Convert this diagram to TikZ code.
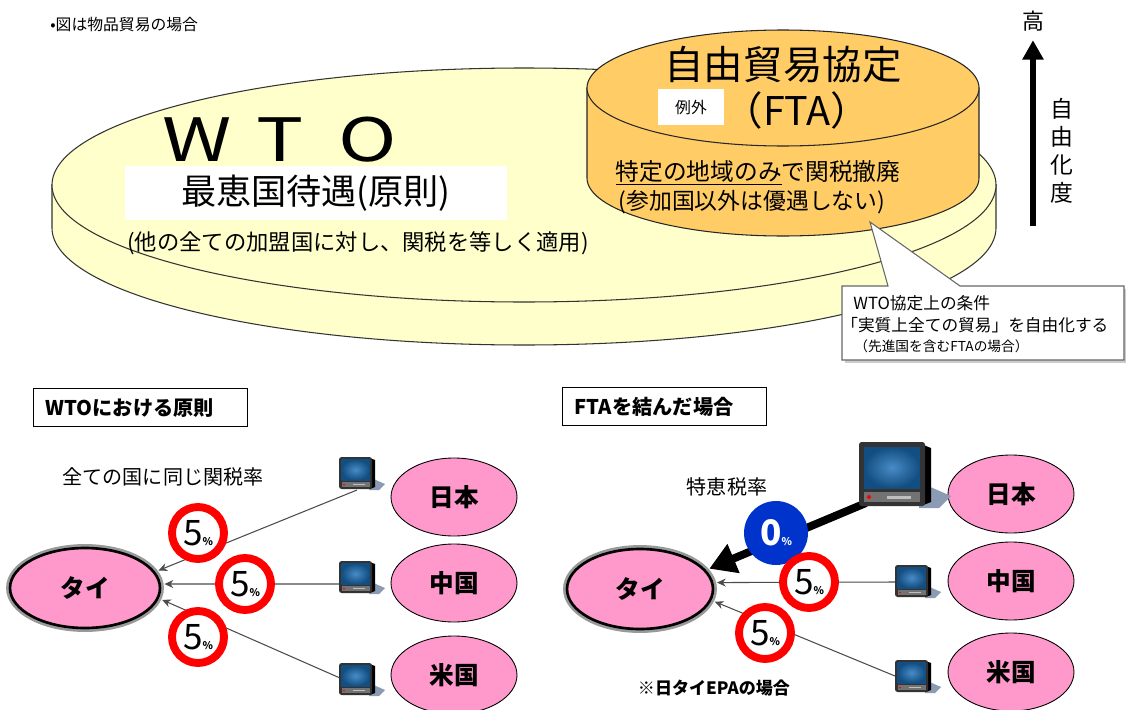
\documentclass[tikz,border=0pt]{standalone}
\usepackage{fontspec}
\setmainfont{Noto Sans CJK JP}
\newfontfamily\widefont[FakeStretch=1.32]{Noto Sans CJK JP}
\usetikzlibrary{shapes.geometric, arrows.meta}

\definecolor{wtoyellow}{HTML}{FFFFCC}
\definecolor{ftaorange}{HTML}{FFCC66}
\definecolor{cpink}{HTML}{FF99CC}
\definecolor{zeroblue}{HTML}{0033CC}
\definecolor{tvblue}{HTML}{1A6FB8}
\definecolor{tvshadow}{HTML}{8A9BB3}

% tariff figure with a small percent sign
\newcommand\tariff[1]{{\fontsize{20}{20}\selectfont #1}{\fontsize{6}{6}\selectfont\bfseries\%}}

\tikzset{%
    tv/.pic={
        \fill[tvshadow] (30,-20) -- (46,-27) -- (40,-33) -- (30,-33) -- cycle;
        \fill[black] (31,-1) -- (36,-3) -- (36,-30) -- (31,-32) -- cycle;
        \fill[black!80, rounded corners=1.5pt] (0,0) rectangle (33,-32);
        \shade[inner color=tvblue!80!white, outer color=tvblue!70!black] (2.5,-2.5) rectangle (30.5,-23);
        \fill[black!55] (2.5,-25) rectangle (30.5,-30);
        \fill[red] (5,-27.5) circle (1);
        \fill[black!25] (14,-27.2) rectangle (26,-28.4);
    }
}

\begin{document}
\begin{tikzpicture}[
        x=0.02cm, y=0.02cm,
        disk/.style={fill=wtoyellow, draw=black!80, line width=0.6pt},
        drum/.style={fill=ftaorange, draw=black!85, line width=0.6pt},
        country/.style={ellipse, draw=black, line width=0.5pt, fill=cpink, inner sep=0pt,
            minimum width=2.52cm, minimum height=1.56cm, font=\fontsize{14}{14}\selectfont\bfseries},
        thai/.style={country, minimum width=3cm, minimum height=1.6cm, line width=1.5pt,
            preaction={draw=black!40, line width=4.5pt}},
        ring/.style={circle, draw=red, line width=4.5pt, fill=white, minimum size=1.04cm, inner sep=0pt},
        zero/.style={circle, fill=zeroblue, minimum size=1.28cm, inner sep=0pt, text=white, font=\bfseries},
        flow/.style={draw=black!70, line width=0.6pt, -{Stealth[length=5pt,width=4.5pt]}, shorten >=2pt},
        heading/.style={draw=black, line width=0.8pt, anchor=north west, align=left, inner xsep=0.24cm,
            minimum height=0.76cm, font=\fontsize{11.5}{11.5}\selectfont\bfseries}
        ]
        \useasboundingbox (0,0) rectangle (1126,-710);
        \fill[white] (0,0) rectangle (1126,-710);

        \node[anchor=west, inner sep=0pt, font=\fontsize{9}{9}\selectfont] (note) at (50,-25) {•図は物品貿易の場合};

        % WTO disk
        \filldraw[disk] (52,-185) -- (52,-228) arc[start angle=180, end angle=360, x radius=472, y radius=117] -- (996,-185) -- cycle;
        \filldraw[disk] (524,-185) ellipse [x radius=472, y radius=117];

        \node (wto) at (280,-140) {\widefont\fontsize{34}{34}\selectfont W\hspace{14pt}T\hspace{20pt}O};
        \node[fill=white, minimum width=7.64cm, minimum height=1.1cm] (mfn) at (316,-193) {\fontsize{20}{20}\selectfont 最恵国待遇(原則)};
        \node (mfnnote) at (358,-243) {\fontsize{12.7}{12.7}\selectfont (他の全ての加盟国に対し、関税を等しく適用)};

        % FTA drum on top
        \filldraw[drum] (587,-88) -- (587,-178) arc[start angle=180, end angle=360, x radius=196, y radius=58] -- (979,-88) -- cycle;
        \filldraw[drum] (783,-88) ellipse [x radius=196, y radius=58];

        \node (fta) at (783,-65) {\fontsize{22.5}{22.5}\selectfont 自由貿易協定};
        \node (ftaabbr) at (797,-110) {\fontsize{22.5}{22.5}\selectfont （FTA）};
        \node[fill=white, minimum width=1.32cm, minimum height=0.74cm, inner sep=0pt] (exc) at (691,-107) {\fontsize{9}{9}\selectfont 例外};
        \node (abolish) at (758,-173) {\fontsize{13.5}{13.5}\selectfont \underline{特定の地域のみ}で関税撤廃};
        \node (members) at (752,-202) {\fontsize{13}{13}\selectfont (参加国以外は優遇しない)};

        % condition callout
        \fill[black!20] (845,-289) rectangle (1127,-363);
        \filldraw[fill=white, draw=black!60, line width=0.6pt] (842,-286) -- (888,-286) -- (870,-222) -- (960,-286)
            -- (1124,-286) -- (1124,-360) -- (842,-360) -- cycle;
        \node[anchor=west, inner sep=0pt, font=\fontsize{9.5}{9.5}\selectfont] (cond1) at (853,-303) {WTO協定上の条件};
        \node[anchor=west, inner sep=0pt, font=\fontsize{9.5}{9.5}\selectfont] (cond2) at (841,-325) {「実質上全ての貿易」を自由化する};
        \node[anchor=west, inner sep=0pt, font=\fontsize{7.8}{7.8}\selectfont] (cond3) at (854,-346) {（先進国を含むFTAの場合）};

        % liberalisation axis
        \node[inner sep=0pt, font=\fontsize{12.5}{12.5}\selectfont] (high) at (1033,-21) {高};
        \coordinate (freelow) at (1033,-226);
        \draw[line width=3.8pt, -{Triangle[length=11pt, width=11.5pt]}, shorten >=5pt] (freelow) -- (high);
        \node[align=center, font=\fontsize{13}{15.9}\selectfont] (degree) at (1062,-151) {自\\由\\化\\度};

        % left panel: same rate for everyone
        \node[heading, text width=3.8cm] (wtohead) at (33,-388) {WTOにおける原則};
        \node[font=\fontsize{11.4}{11.4}\selectfont] (same) at (163,-477) {全ての国に同じ関税率};

        \node[thai] (thaiL) at (85,-588) {タイ};
        \node[country] (jpL) at (454,-497) {日本};
        \node[country] (cnL) at (454,-583) {中国};
        \node[country] (usL) at (454,-675) {米国};

        \coordinate (tvJL) at (357,-490);
        \coordinate (tvCL) at (339,-584);
        \coordinate (tvUL) at (340,-678);
        \draw[flow] (tvJL) -- (thaiL.13);
        \draw[flow] (tvCL) -- (thaiL.3);
        \draw[flow] (tvUL) -- (thaiL.-8);

        \pic at (339,-457) {tv};
        \pic at (339,-561) {tv};
        \pic at (339,-663) {tv};

        \node[ring] (r1) at (198,-533) {\tariff{5}};
        \node[ring] (r2) at (245,-584) {\tariff{5}};
        \node[ring] (r3) at (198,-637) {\tariff{5}};

        % right panel: with the FTA
        \node[heading, text width=3.6cm] (ftahead) at (562,-387) {FTAを結んだ場合};
        \node[font=\fontsize{11.4}{11.4}\selectfont] (pref) at (727,-487) {特恵税率};
        \node[font=\fontsize{9.7}{9.7}\selectfont\bfseries] (epa) at (714,-688) {※日タイEPAの場合};

        \node[thai, minimum width=2.92cm] (thaiR) at (640,-589) {タイ};
        \node[country] (jpR) at (1011,-494) {日本};
        \node[country] (cnR) at (1011,-581) {中国};
        \node[country] (usR) at (1011,-672) {米国};

        \coordinate (tvJR) at (866,-503);
        \coordinate (tvCR) at (895,-582);
        \coordinate (tvUR) at (895,-676);
        \draw[line width=4.5pt, -{Triangle[length=15pt, width=17pt]}, shorten >=2pt] (tvJR) -- (thaiR.16);
        \draw[flow] (tvCR) -- (thaiR.5);
        \draw[flow] (tvUR) -- (thaiR.-9);

        \pic[scale=2] at (859,-442) {tv};
        \pic at (895,-565) {tv};
        \pic at (895,-660) {tv};

        \node[zero] (z1) at (776,-533) {\tariff{0}};
        \node[ring] (r4) at (809,-582) {\tariff{5}};
        \node[ring] (r5) at (765,-633) {\tariff{5}};
    \end{tikzpicture}
\end{document}
